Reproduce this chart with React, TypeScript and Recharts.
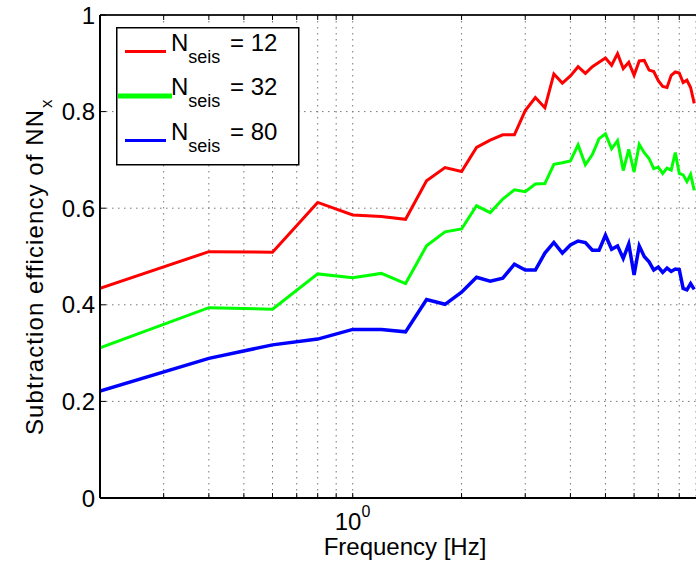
import { LineChart, Line, XAxis, YAxis, CartesianGrid, Legend, ReferenceLine } from 'recharts';

const FREQ = [
  0.2, 0.4, 0.6, 0.8, 1.0, 1.2, 1.4, 1.6, 1.8, 2.0, 2.2, 2.4, 2.6, 2.8, 3.0, 3.2, 3.4, 3.6, 3.8, 4.0, 4.2, 4.4,
  4.6, 4.8, 5.0, 5.2, 5.4, 5.6, 5.8, 6.0, 6.2, 6.4, 6.6, 6.8, 7.0, 7.2, 7.4, 7.6, 7.8, 8.0, 8.2, 8.4, 8.6, 8.8,
];

const N_SEIS = [12, 32, 80];

const EFF_12 = [
  0.434, 0.51, 0.509, 0.612, 0.586, 0.583, 0.577, 0.657, 0.684, 0.676, 0.726, 0.741, 0.752, 0.752, 0.802, 0.829,
  0.808, 0.878, 0.859, 0.874, 0.893, 0.879, 0.893, 0.902, 0.911, 0.896, 0.92, 0.889, 0.902, 0.875, 0.905, 0.906,
  0.886, 0.883, 0.864, 0.852, 0.85, 0.875, 0.882, 0.88, 0.86, 0.865, 0.85, 0.817,
];

const EFF_32 = [
  0.311, 0.394, 0.391, 0.464, 0.456, 0.465, 0.444, 0.522, 0.551, 0.557, 0.605, 0.591, 0.619, 0.638, 0.634, 0.65,
  0.651, 0.691, 0.694, 0.698, 0.731, 0.69, 0.711, 0.744, 0.754, 0.723, 0.74, 0.678, 0.722, 0.675, 0.732, 0.715,
  0.703, 0.682, 0.685, 0.672, 0.683, 0.679, 0.715, 0.672, 0.669, 0.655, 0.67, 0.637,
];

const EFF_80 = [
  0.2215, 0.289, 0.317, 0.329, 0.349, 0.349, 0.344, 0.411, 0.401, 0.426, 0.457, 0.449, 0.455, 0.484, 0.472, 0.472,
  0.507, 0.529, 0.507, 0.524, 0.532, 0.529, 0.513, 0.513, 0.544, 0.515, 0.522, 0.496, 0.526, 0.462, 0.522, 0.5,
  0.489, 0.472, 0.478, 0.467, 0.476, 0.469, 0.474, 0.473, 0.434, 0.431, 0.444, 0.432,
];

const X_TICKS = [0.3, 0.4, 0.5, 0.6, 0.7, 0.8, 0.9, 1, 2, 3, 4, 5, 6, 7, 8];
const Y_TICKS = [0, 0.2, 0.4, 0.6, 0.8, 1];

const FONT = '"Liberation Sans", Arial, Helvetica, sans-serif';
const COLORS = ['#ff0000', '#00ff00', '#0000ff'];

const data = FREQ.map((f, i) => ({ f, n12: EFF_12[i], n32: EFF_32[i], n80: EFF_80[i] }));

// matlab style: ticks point inward, only 10^0 gets a label
const XTick = ({ x, y, payload }: any) => (
  <g>
    <line x1={x} x2={x} y1={y} y2={y - 5} stroke="#000" strokeWidth={1} />
    <line x1={x} x2={x} y1={15} y2={20} stroke="#000" strokeWidth={1} />
    {payload.value === 1 && (
      <text x={x - 18} y={y + 32} fontFamily={FONT} fontSize={24} fill="#000">
        10
        <tspan fontSize={16} dy={-13}>
          0
        </tspan>
      </text>
    )}
  </g>
);

const YTick = ({ x, y, payload }: any) => (
  <g>
    <line x1={x} x2={x + 6} y1={y} y2={y} stroke="#000" strokeWidth={1} />
    <text x={x - 5} y={y} dy="0.36em" textAnchor="end" fontFamily={FONT} fontSize={24} fill="#000">
      {String(payload.value)}
    </text>
  </g>
);

const renderXLabel = () => (
  <text x={405} y={555} textAnchor="middle" fontFamily={FONT} fontSize={24} fill="#000">
    Frequency [Hz]
  </text>
);

const renderYLabel = () => (
  <g fontFamily={FONT} fill="#000">
    <text x={43} y={435} fontSize={24} textLength={325} lengthAdjust="spacing" transform="rotate(-90 43 435)">
      Subtraction efficiency of NN
    </text>
    <text x={52} y={108} fontSize={17} transform="rotate(-90 52 108)">
      x
    </text>
  </g>
);

const renderLegend = ({ payload }: any) => (
  <svg width={184} height={139} style={{ display: 'block' }}>
    <rect x={0.75} y={0.75} width={182} height={137} fill="#fff" stroke="#000" strokeWidth={1.5} />
    {(payload || []).map((entry: any, i: number) => {
      const base = 23.5 + i * 44.5;
      const thick = i === 1;
      return (
        <g key={i} fontFamily={FONT} fill="#000">
          <line
            x1={thick ? 2 : 9}
            x2={thick ? 56 : 50}
            y1={base + 1}
            y2={base + 1}
            stroke={entry.color}
            strokeWidth={thick ? 5 : 3}
          />
          <text x={55} y={base} fontSize={24}>
            N
            <tspan fontSize={18} dy={12}>
              seis
            </tspan>
          </text>
          <text x={114} y={base} fontSize={24}>
            = {N_SEIS[i]}
          </text>
        </g>
      );
    })}
  </svg>
);

export default function App() {
  return (
    <div style={{ position: 'absolute', left: 0, top: 0, width: 696, height: 561, background: '#fff' }}>
      <LineChart width={696} height={561} data={data} margin={{ top: 15, right: 0, bottom: 0, left: 0 }}>
        <CartesianGrid stroke="#777" strokeDasharray="1.5 4.5" />
        <XAxis
          dataKey="f"
          type="number"
          scale="log"
          domain={[0.2, 8.9]}
          allowDataOverflow
          ticks={X_TICKS}
          interval={0}
          height={63}
          tickSize={0}
          tickMargin={0}
          tickLine={false}
          tick={<XTick />}
          axisLine={{ stroke: '#000', strokeWidth: 2 }}
          label={{ content: renderXLabel }}
        />
        <YAxis
          type="number"
          domain={[0, 1]}
          ticks={Y_TICKS}
          interval={0}
          width={100}
          tickSize={0}
          tickMargin={0}
          tickLine={false}
          tick={<YTick />}
          axisLine={{ stroke: '#000', strokeWidth: 2 }}
          label={{ content: renderYLabel }}
        />
        <ReferenceLine y={1} stroke="#222" strokeWidth={2} />
        <Line
          name="N_seis = 12"
          dataKey="n12"
          stroke={COLORS[0]}
          strokeWidth={3}
          dot={false}
          activeDot={false}
          isAnimationActive={false}
        />
        <Line
          name="N_seis = 32"
          dataKey="n32"
          stroke={COLORS[1]}
          strokeWidth={3}
          dot={false}
          activeDot={false}
          isAnimationActive={false}
        />
        <Line
          name="N_seis = 80"
          dataKey="n80"
          stroke={COLORS[2]}
          strokeWidth={3.5}
          dot={false}
          activeDot={false}
          isAnimationActive={false}
        />
        <Legend
          layout="vertical"
          align="center"
          verticalAlign="middle"
          content={renderLegend}
          wrapperStyle={{ position: 'absolute', left: 116, top: 27, width: 184, height: 139 }}
        />
      </LineChart>
    </div>
  );
}
